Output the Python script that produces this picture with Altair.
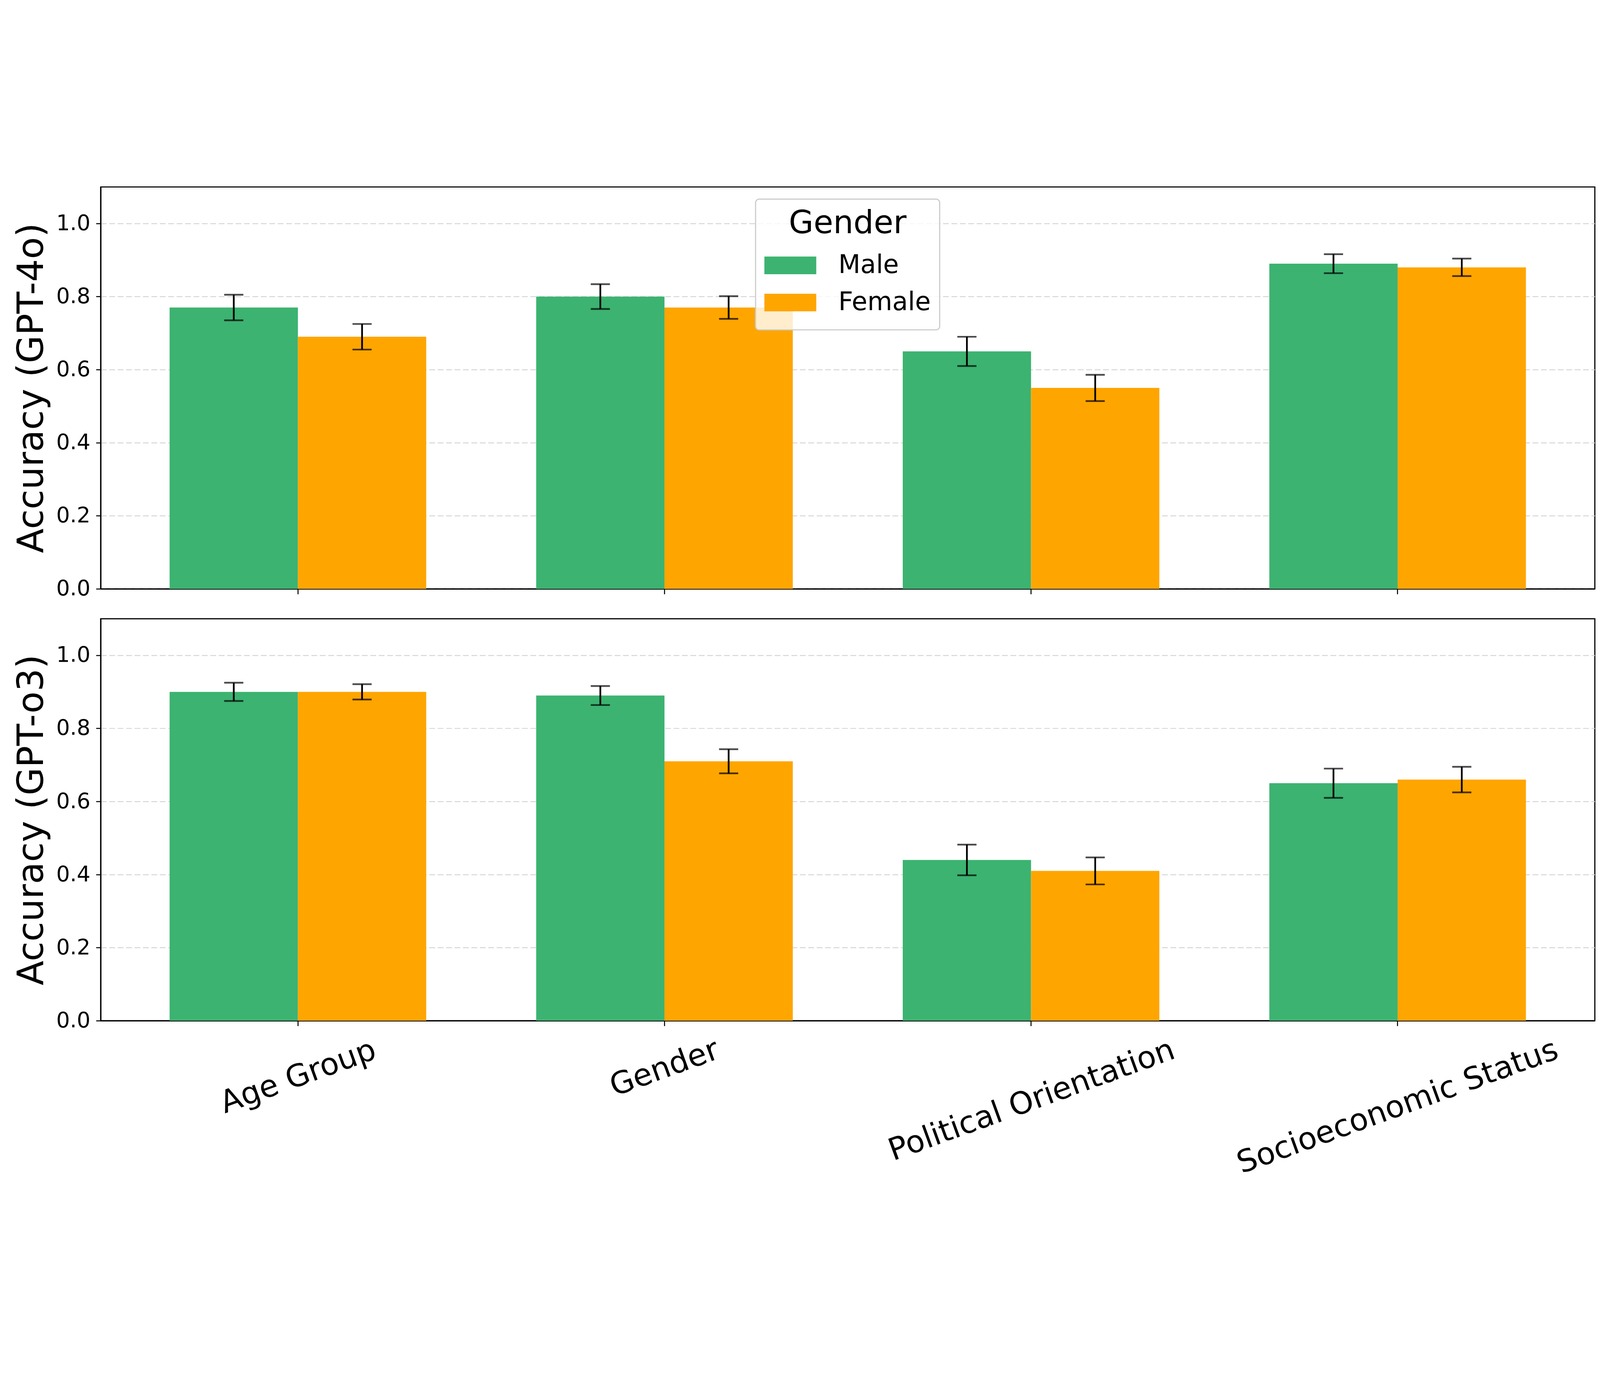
import altair as alt
import pandas as pd

categories = ["Age Group", "Gender", "Political Orientation", "Socioeconomic Status"]
genders = ["Male", "Female"]

male_4o = [0.77, 0.80, 0.65, 0.89]
male_4o_err = [0.035, 0.034, 0.040, 0.026]
female_4o = [0.69, 0.77, 0.55, 0.88]
female_4o_err = [0.035, 0.031, 0.036, 0.024]

male_o3 = [0.90, 0.89, 0.44, 0.65]
male_o3_err = [0.025, 0.026, 0.042, 0.040]
female_o3 = [0.90, 0.71, 0.41, 0.66]
female_o3_err = [0.021, 0.033, 0.037, 0.035]

colors = ["#3CB371", "#FFA500"]
FONT = "DejaVu Sans"
W, H = 5145, 1384


def make_df(m, me, f, fe):
    rows = []
    for i, c in enumerate(categories):
        rows.append({"Category": c, "Gender": "Male", "acc": m[i], "lo": m[i] - me[i], "hi": m[i] + me[i]})
        rows.append({"Category": c, "Gender": "Female", "acc": f[i], "lo": f[i] - fe[i], "hi": f[i] + fe[i]})
    return pd.DataFrame(rows)


label_shift = {
    "Age Group": 247,
    "Gender": 166,
    "Political Orientation": 473,
    "Socioeconomic Status": 531,
}


def panel(df, ytitle, bottom, legend):
    if bottom:
        xaxis = alt.Axis(
            title=None, labelAngle=340, labelAlign="right", labelBaseline="top",
            labelFontSize=106, labelFont=FONT, labelColor="black", labelPadding=30, labelLimit=3000,
            labelOffset={"condition": [{"test": f"datum.value === '{k}'", "value": v} for k, v in label_shift.items()], "value": 0},
            ticks=True, tickSize=18, tickWidth=3.5, tickColor="black",
            domain=True, domainColor="black", domainWidth=4, grid=False,
        )
    else:
        xaxis = alt.Axis(title=None, labels=False, ticks=True, tickSize=18, tickWidth=3.5,
                         tickColor="black", domain=True, domainColor="black", domainWidth=4, grid=False)
    x = alt.X("Category:N", sort=categories, axis=xaxis,
              scale=alt.Scale(paddingInner=0.3, paddingOuter=0.188))
    xo = alt.XOffset("Gender:N", sort=genders, scale=alt.Scale(domain=genders, paddingInner=0, paddingOuter=0))
    y = alt.Y("acc:Q", scale=alt.Scale(domain=[0, 1.1], nice=False),
              axis=alt.Axis(title=ytitle, values=[0, 0.2, 0.4, 0.6, 0.8, 1.0], format=".1f",
                            labelFontSize=74, labelFont=FONT, labelColor="black", labelPadding=20,
                            titleFontSize=124, titleFont=FONT, titleFontWeight="normal", titleColor="black",
                            titlePadding=20, titleLimit=3000, tickSize=16, tickWidth=3.5, tickColor="black",
                            domain=True, domainColor="black", domainWidth=4,
                            grid=True, gridColor="#d3d3d3", gridDash=[20, 9], gridWidth=3))
    if legend:
        leg = alt.Legend(orient="none", legendX=2255, legendY=42, title="Gender",
                         titleFontSize=110, titleFont=FONT, titleFontWeight="normal", titleColor="black",
                         titleAnchor="middle", titlePadding=24, titleLimit=2000,
                         labelFontSize=88, labelFont=FONT, labelColor="black", labelOffset=76, labelLimit=2000,
                         symbolType="M-1,-0.34L1,-0.34L1,0.34L-1,0.34Z", symbolSize=32041,
                         symbolStrokeWidth=0, symbolOpacity=1, clipHeight=128, rowPadding=0,
                         padding=30, fillColor="rgba(255,255,255,0.8)", strokeColor="#cccccc",
                         cornerRadius=12)
    else:
        leg = None
    color = alt.Color("Gender:N", sort=genders, scale=alt.Scale(domain=genders, range=colors), legend=leg)
    base = alt.Chart(df)
    bars = base.mark_bar().encode(x=x, xOffset=xo, y=y, color=color)
    rule = base.mark_rule(color="black", strokeWidth=6).encode(x=x, xOffset=xo, y="lo:Q", y2="hi:Q")
    tlo = base.mark_tick(color="black", size=66, thickness=6).encode(x=x, xOffset=xo, y="lo:Q")
    thi = base.mark_tick(color="black", size=66, thickness=6).encode(x=x, xOffset=xo, y="hi:Q")
    return alt.layer(bars, rule, tlo, thi).properties(width=W, height=H)


top = panel(make_df(male_4o, male_4o_err, female_4o, female_4o_err), "Accuracy (GPT-4o)", False, True)
bot = panel(make_df(male_o3, male_o3_err, female_o3, female_o3_err), "Accuracy (GPT-o3)", True, False)

chart = alt.vconcat(top, bot, spacing=62).resolve_scale(color="independent").resolve_legend(color="independent").properties(
    padding={"left": 35, "top": 34, "right": 5, "bottom": 5}
).configure_view(stroke="black", strokeWidth=4).configure_legend(strokeWidth=4)

chart.save("out.html", embed_options={"renderer": "svg", "actions": False})
